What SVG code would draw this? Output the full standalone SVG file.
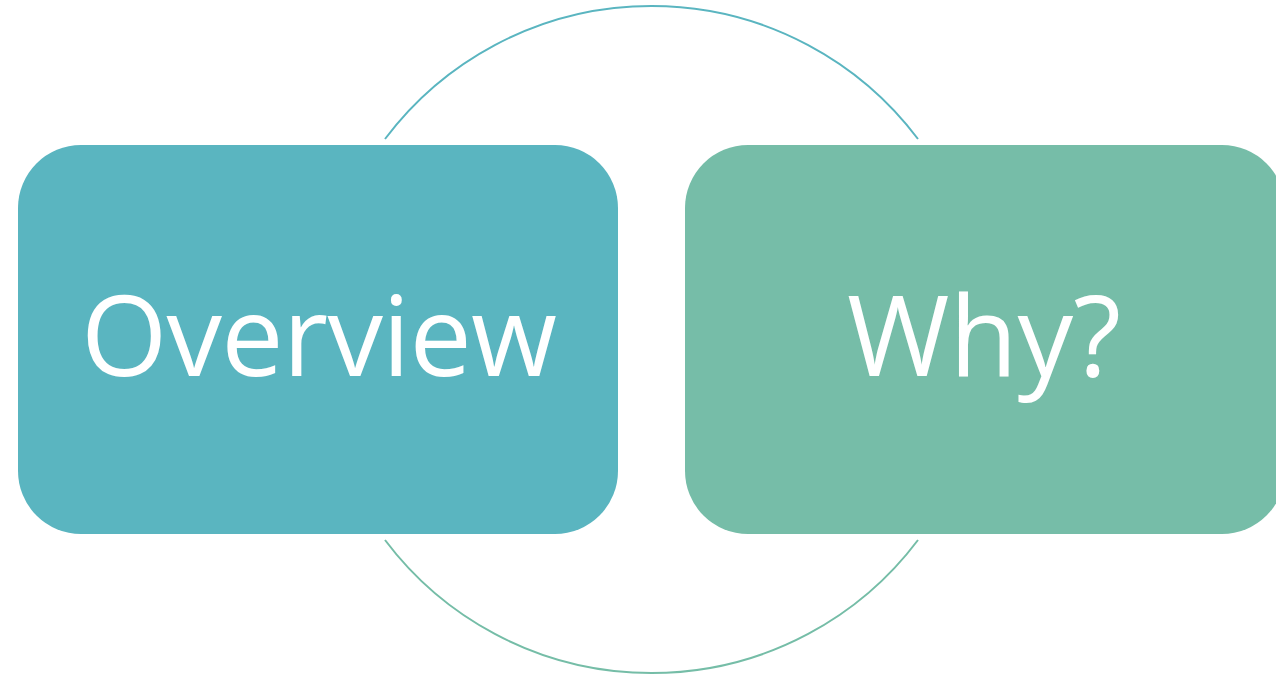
<svg xmlns="http://www.w3.org/2000/svg" width="1276" height="676" viewBox="0 0 1276 676">
  <style>
    .label { font-family: "Open Sans", "Noto Sans", "DejaVu Sans", sans-serif; font-size: 111px; fill: #ffffff; text-anchor: middle; }
    .ring { fill: none; stroke-width: 2; }
  </style>
  <rect width="1276" height="676" fill="#ffffff"/>
  <!-- circular connectors above and below the two boxes -->
  <g id="connectors">
    <path class="ring" stroke="#5AB5C0" d="M 385 139 A 333.5 333.5 0 0 1 918 139"/>
    <path class="ring" stroke="#75BDA7" d="M 918 540 A 333.5 333.5 0 0 1 385 540"/>
  </g>
  <g id="overview">
    <rect x="18" y="145" width="600" height="389" rx="63" ry="63" fill="#5AB5C0"/>
    <text class="label" x="319" y="376" textLength="476" lengthAdjust="spacing">Overview</text>
  </g>
  <g id="why">
    <rect x="685" y="145" width="600" height="389" rx="63" ry="63" fill="#76BDA8"/>
    <text class="label" x="984" y="376">Why?</text>
  </g>
</svg>
